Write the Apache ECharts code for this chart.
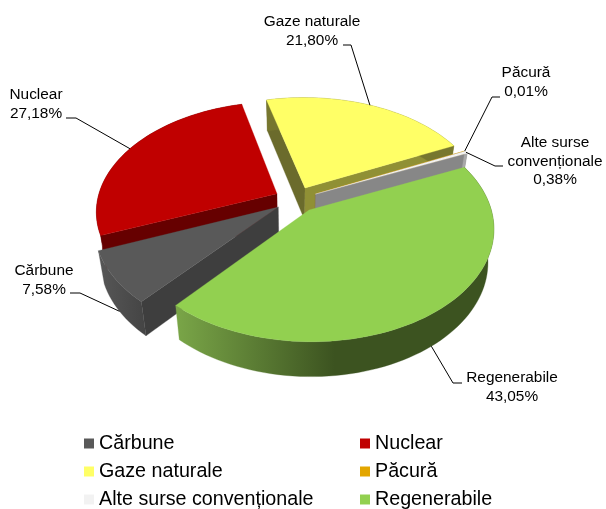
<!DOCTYPE html>
<html>
<head>
<meta charset="utf-8">
<style>html,body{margin:0;padding:0;background:#fff}#c{width:606px;height:509px}</style>
<script src="https://cdn.jsdelivr.net/npm/echarts@6/dist/echarts.min.js"></script>
</head>
<body>
<div id="c"></div>
<script>
// Data
var categories = ['Cărbune', 'Nuclear', 'Gaze naturale', 'Păcură', 'Alte surse convenționale', 'Regenerabile'];
var values = [7.58, 27.18, 21.80, 0.01, 0.38, 43.05];
var valueLabels = ['7,58%', '27,18%', '21,80%', '0,01%', '0,38%', '43,05%'];
var labelLines = [['Cărbune'], ['Nuclear'], ['Gaze naturale'], ['Păcură'], ['Alte surse', 'convenționale'], ['Regenerabile']];

// Styles
var topColors = ['#595959', '#c00000', '#ffff66', '#e3a600', '#f2f2f2', '#92d050'];
var startWall = ['#3e3e3e', '#660000', '#6b6b2c', '#8a6500', '#878787', '#4a6a28'];
var endWall = ['#3e3e3e', '#660000', '#909035', '#8a6500', '#878787', '#4a6a28'];
var arcStops = [
  [[0, '#575757'], [1, '#444444']],
  [[0, '#660000'], [1, '#660000']],
  [[0, '#77772f'], [1, '#77772f']],
  [[0, '#8a6500'], [1, '#8a6500']],
  [[0, '#a8a8a8'], [1, '#a8a8a8']],
  [[0, '#7aa648'], [0.5, '#3c5320'], [1, '#3c5320']]
];
var paintOrder = [4, 3, 0, 1, 2, 5]; // depth order per category (higher paints later)
var leaderOnBottom = [true, false, false, false, false, true];

// Layout of the 3D view
var cx = 296, cy = 199.5, R = 179.5, squash = 0.6, persp = 0.155;
var explode = 0.12, baseScale = 0.97, depth = 32.5, firstAngle = 220.8;
var labelCenters = [[44, 271], [36, 95], [312, 22], [526, 73], [555, 143], [512, 378]];
var labelStep = 18.5;
var leaderElbows = [
  [[70, 293], [80, 293]],
  [[66, 118], [76, 118]],
  [[343, 45], [351, 45]],
  [[500, 97], [492, 97]],
  [[503, 166], [495, 166]],
  [[462, 383], [453, 383]]
];
var legendColumn = [0, 1, 0, 1, 0, 1];
var legendRow = [0, 0, 1, 1, 2, 2];
var legendColumnLeft = [84, 360];
var legendTop = 433.5, legendStep = 28;
var fontFamily = '"Liberation Sans", Arial, sans-serif';

var total = values.reduce(function (a, b) { return a + b; }, 0);
function rad(d) { return d * Math.PI / 180; }
function project(X, Y, bottom) {
  var w = 1 + persp * Y, t = bottom ? baseScale : 1;
  return [cx + R * X * t / w, cy - R * squash * Y * t / w + (bottom ? depth / w : 0)];
}
function sliceAngles(i) {
  var a = firstAngle;
  for (var k = 0; k < i; k++) a += values[k] / total * 360;
  return [a, a + values[i] / total * 360];
}
function renderSlice(i) {
  return function () {
    var ang = sliceAngles(i), a0 = ang[0], a1 = ang[1], mid = (a0 + a1) / 2;
    var ox = explode * Math.sin(rad(mid)), oy = explode * Math.cos(rad(mid));
    function rim(a, b) { return project(ox + Math.sin(rad(a)), oy + Math.cos(rad(a)), b); }
    var n = Math.max(2, Math.ceil((a1 - a0) / 2));
    var topArc = [], botArc = [];
    for (var k = 0; k <= n; k++) {
      var a = a0 + (a1 - a0) * k / n;
      topArc.push(rim(a, false));
      botArc.push(rim(a, true));
    }
    var apexT = project(ox, oy, false), apexB = project(ox, oy, true);
    var kids = [];
    function poly(pts, fill) {
      kids.push({ type: 'polygon', shape: { points: pts }, style: { fill: fill, stroke: fill, lineWidth: 0.3 }, silent: true });
    }
    if (Math.cos(rad(a0 - 90)) < 0) poly([apexT, topArc[0], botArc[0], apexB], startWall[i]);
    if (Math.cos(rad(a1 + 90)) < 0) poly([apexT, topArc[n], botArc[n], apexB], endWall[i]);
    poly(topArc.concat(botArc.slice().reverse()), new echarts.graphic.LinearGradient(0, 0, 1, 0,
      arcStops[i].map(function (s) { return { offset: s[0], color: s[1] }; })));
    poly([apexT].concat(topArc), topColors[i]);

    // label and leader
    var e = leaderElbows[i];
    kids.push({
      type: 'polyline', silent: true, z2: 50,
      shape: { points: [e[0], e[1], rim(mid, leaderOnBottom[i])] },
      style: { stroke: '#000', lineWidth: 1, fill: null }
    });
    var lines = labelLines[i].concat([valueLabels[i]]);
    lines.forEach(function (t, j) {
      kids.push({
        type: 'text', silent: true, z2: 51,
        x: labelCenters[i][0], y: labelCenters[i][1] + j * labelStep,
        style: { text: t, fill: '#000', font: '15.4px ' + fontFamily, align: 'center', verticalAlign: 'middle' }
      });
    });
    return { type: 'group', children: kids };
  };
}

var series = categories.map(function (name, i) {
  return {
    type: 'custom', name: name, coordinateSystem: 'none', silent: true,
    z: 2 + paintOrder[i],
    itemStyle: { color: topColors[i] },
    data: [values[i]],
    renderItem: renderSlice(i)
  };
});
var legends = categories.map(function (name, i) {
  return {
    data: [name], left: legendColumnLeft[legendColumn[i]], top: legendTop + legendRow[i] * legendStep,
    padding: 0, itemWidth: 10, itemHeight: 10, icon: 'rect', selectedMode: false,
    textStyle: { fontFamily: fontFamily, fontSize: 19.7, color: '#000', lineHeight: 20, padding: 0 }
  };
});
var chart = echarts.init(document.getElementById('c'), null, { renderer: 'canvas' });
chart.setOption({
  animation: false,
  backgroundColor: '#fff',
  tooltip: { show: false },
  legend: legends,
  series: series
});
</script>
</body>
</html>
